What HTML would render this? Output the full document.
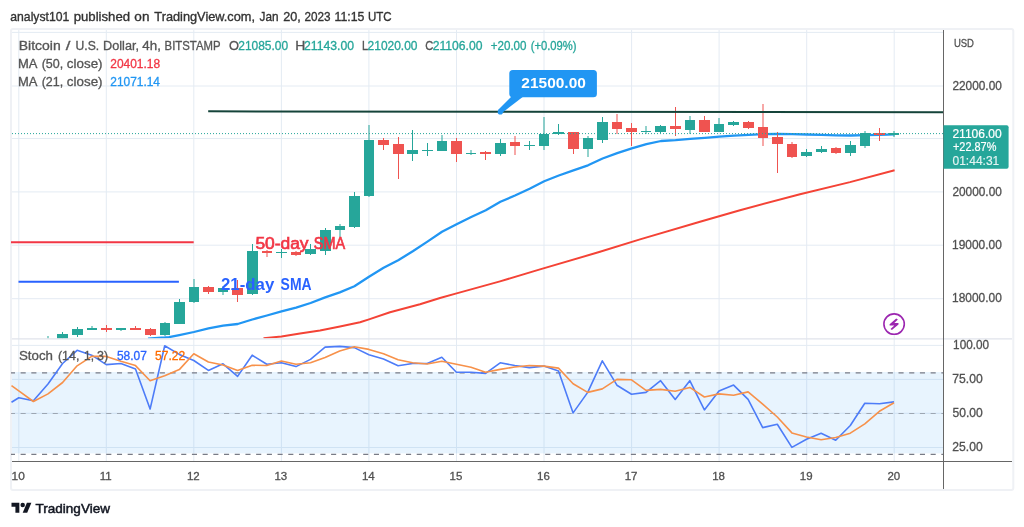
<!DOCTYPE html>
<html><head><meta charset="utf-8"><style>
html,body{margin:0;padding:0;background:#fff;width:1024px;height:527px;overflow:hidden}
svg{display:block;will-change:transform}
text{font-family:"Liberation Sans", sans-serif}
</style></head><body>
<svg width="1024" height="527" viewBox="0 0 1024 527">
<defs>
<clipPath id="cp"><rect x="11" y="30" width="932" height="308.5"/></clipPath>
<clipPath id="cs"><rect x="11" y="339.5" width="932" height="121.5"/></clipPath>
</defs>
<rect width="1024" height="527" fill="#fff"/>
<text x="10.31" y="20.50" font-size="13.00" fill="#333333" textLength="58.96" lengthAdjust="spacingAndGlyphs" stroke="#333333" stroke-width="0.35">analyst101</text>
<text x="73.74" y="20.50" font-size="13.00" fill="#333333" textLength="56.33" lengthAdjust="spacingAndGlyphs" stroke="#333333" stroke-width="0.35">published</text>
<text x="134.36" y="20.50" font-size="13.00" fill="#333333" textLength="15.05" lengthAdjust="spacingAndGlyphs" stroke="#333333" stroke-width="0.35">on</text>
<text x="154.34" y="20.50" font-size="13.00" fill="#333333" textLength="100.68" lengthAdjust="spacingAndGlyphs" stroke="#333333" stroke-width="0.35">TradingView.com,</text>
<text x="259.52" y="20.50" font-size="13.00" fill="#333333" textLength="18.97" lengthAdjust="spacingAndGlyphs" stroke="#333333" stroke-width="0.35">Jan</text>
<text x="283.17" y="20.50" font-size="13.00" fill="#333333" textLength="17.57" lengthAdjust="spacingAndGlyphs" stroke="#333333" stroke-width="0.35">20,</text>
<text x="304.41" y="20.50" font-size="13.00" fill="#333333" textLength="26.05" lengthAdjust="spacingAndGlyphs" stroke="#333333" stroke-width="0.35">2023</text>
<text x="334.58" y="20.50" font-size="13.00" fill="#333333" textLength="29.85" lengthAdjust="spacingAndGlyphs" stroke="#333333" stroke-width="0.35">11:15</text>
<text x="367.94" y="20.50" font-size="13.00" fill="#333333" textLength="23.67" lengthAdjust="spacingAndGlyphs" stroke="#333333" stroke-width="0.35">UTC</text>
<rect x="11" y="29" width="1002.3" height="461" rx="2" fill="none" stroke="#eff1f5" stroke-width="2"/>
<g stroke="#e4ebf3" stroke-width="1">
<line x1="18.8" y1="30" x2="18.8" y2="461" />
<line x1="106.3" y1="30" x2="106.3" y2="461" />
<line x1="193.8" y1="30" x2="193.8" y2="461" />
<line x1="281.4" y1="30" x2="281.4" y2="461" />
<line x1="368.9" y1="30" x2="368.9" y2="461" />
<line x1="456.5" y1="30" x2="456.5" y2="461" />
<line x1="544.0" y1="30" x2="544.0" y2="461" />
<line x1="631.6" y1="30" x2="631.6" y2="461" />
<line x1="719.1" y1="30" x2="719.1" y2="461" />
<line x1="806.7" y1="30" x2="806.7" y2="461" />
<line x1="894.2" y1="30" x2="894.2" y2="461" />
<line x1="12" y1="32.4" x2="943" y2="32.4" />
<line x1="12" y1="86.0" x2="943" y2="86.0" />
<line x1="12" y1="138.5" x2="943" y2="138.5" />
<line x1="12" y1="191.9" x2="943" y2="191.9" />
<line x1="12" y1="245.2" x2="943" y2="245.2" />
<line x1="12" y1="298.7" x2="943" y2="298.7" />
<line x1="12" y1="345.4" x2="943" y2="345.4" />
<line x1="12" y1="379.4" x2="943" y2="379.4" />
<line x1="12" y1="413.3" x2="943" y2="413.3" />
<line x1="12" y1="447.5" x2="943" y2="447.5" />
</g>
<!-- stoch band -->
<rect x="12" y="372" width="931" height="81.4" fill="#2196f3" fill-opacity="0.1"/>
<g clip-path="url(#cs)" stroke-width="1.1">
<line x1="9.9" y1="372.9" x2="943" y2="372.9" stroke="#787b86" stroke-dasharray="5.1 5.606"/>
<line x1="9.9" y1="413.5" x2="943" y2="413.5" stroke="#787b86" stroke-opacity="0.6" stroke-dasharray="5.1 5.606"/>
<line x1="9.9" y1="454.4" x2="943" y2="454.4" stroke="#787b86" stroke-dasharray="5.1 5.606"/>
</g>
<g clip-path="url(#cp)">
<text x="18.78" y="49.60" font-size="12.00" fill="#555555" textLength="41.95" lengthAdjust="spacingAndGlyphs" stroke="#555555" stroke-width="0.30">Bitcoin</text>
<text x="65.80" y="49.60" font-size="12.00" fill="#555555" textLength="4.66" lengthAdjust="spacingAndGlyphs" stroke="#555555" stroke-width="0.30">/</text>
<text x="75.59" y="49.60" font-size="12.00" fill="#555555" textLength="23.67" lengthAdjust="spacingAndGlyphs" stroke="#555555" stroke-width="0.30">U.S.</text>
<text x="103.09" y="49.60" font-size="12.00" fill="#555555" textLength="35.95" lengthAdjust="spacingAndGlyphs" stroke="#555555" stroke-width="0.30">Dollar,</text>
<text x="142.33" y="49.60" font-size="12.00" fill="#555555" textLength="18.57" lengthAdjust="spacingAndGlyphs" stroke="#555555" stroke-width="0.30">4h,</text>
<text x="164.59" y="49.60" font-size="12.00" fill="#555555" textLength="55.89" lengthAdjust="spacingAndGlyphs" stroke="#555555" stroke-width="0.30">BITSTAMP</text>
<text x="228.92" y="49.60" font-size="12.00" fill="#555555" textLength="9.99" lengthAdjust="spacingAndGlyphs" stroke="#555555" stroke-width="0.30">O</text>
<text x="238.30" y="49.60" font-size="12.00" fill="#26a69a" textLength="49.83" lengthAdjust="spacingAndGlyphs" stroke="#26a69a" stroke-width="0.30">21085.00</text>
<text x="295.39" y="49.60" font-size="12.00" fill="#555555" textLength="10.06" lengthAdjust="spacingAndGlyphs" stroke="#555555" stroke-width="0.30">H</text>
<text x="303.99" y="49.60" font-size="12.00" fill="#26a69a" textLength="50.06" lengthAdjust="spacingAndGlyphs" stroke="#26a69a" stroke-width="0.30">21143.00</text>
<text x="362.02" y="49.60" font-size="12.00" fill="#555555" textLength="6.12" lengthAdjust="spacingAndGlyphs" stroke="#555555" stroke-width="0.30">L</text>
<text x="367.60" y="49.60" font-size="12.00" fill="#26a69a" textLength="49.93" lengthAdjust="spacingAndGlyphs" stroke="#26a69a" stroke-width="0.30">21020.00</text>
<text x="425.34" y="49.60" font-size="12.00" fill="#555555" textLength="8.07" lengthAdjust="spacingAndGlyphs" stroke="#555555" stroke-width="0.30">C</text>
<text x="432.69" y="49.60" font-size="12.00" fill="#26a69a" textLength="49.75" lengthAdjust="spacingAndGlyphs" stroke="#26a69a" stroke-width="0.30">21106.00</text>
<text x="490.72" y="49.60" font-size="12.00" fill="#26a69a" textLength="35.80" lengthAdjust="spacingAndGlyphs" stroke="#26a69a" stroke-width="0.30">+20.00</text>
<text x="530.73" y="49.60" font-size="12.00" fill="#26a69a" textLength="45.85" lengthAdjust="spacingAndGlyphs" stroke="#26a69a" stroke-width="0.30">(+0.09%)</text>
<text x="18.06" y="67.70" font-size="12.00" fill="#555555" textLength="19.44" lengthAdjust="spacingAndGlyphs" stroke="#555555" stroke-width="0.30">MA</text>
<text x="41.65" y="67.70" font-size="12.00" fill="#555555" textLength="21.55" lengthAdjust="spacingAndGlyphs" stroke="#555555" stroke-width="0.30">(50,</text>
<text x="66.87" y="67.70" font-size="12.00" fill="#555555" textLength="35.67" lengthAdjust="spacingAndGlyphs" stroke="#555555" stroke-width="0.30">close)</text>
<text x="110.30" y="67.70" font-size="12.00" fill="#f23645" textLength="49.79" lengthAdjust="spacingAndGlyphs" stroke="#f23645" stroke-width="0.30">20401.18</text>
<text x="18.06" y="86.00" font-size="12.00" fill="#555555" textLength="19.44" lengthAdjust="spacingAndGlyphs" stroke="#555555" stroke-width="0.30">MA</text>
<text x="41.65" y="86.00" font-size="12.00" fill="#555555" textLength="21.55" lengthAdjust="spacingAndGlyphs" stroke="#555555" stroke-width="0.30">(21,</text>
<text x="66.87" y="86.00" font-size="12.00" fill="#555555" textLength="35.67" lengthAdjust="spacingAndGlyphs" stroke="#555555" stroke-width="0.30">close)</text>
<text x="110.30" y="86.00" font-size="12.00" fill="#2196f3" textLength="49.66" lengthAdjust="spacingAndGlyphs" stroke="#2196f3" stroke-width="0.30">21071.14</text>
<line x1="18.5" y1="281.7" x2="178.9" y2="281.7" stroke="#2962ff" stroke-width="2"/>
<line x1="11" y1="242.2" x2="193.7" y2="242.2" stroke="#f23645" stroke-width="2"/>
<polyline points="148.0,338.6 164.7,337.5 169.0,337.1 179.3,335.1 193.9,332.0 208.5,328.4 223.1,325.7 237.7,324.0 252.3,319.5 266.9,315.5 281.5,311.4 296.1,307.6 310.6,303.0 325.2,297.4 339.8,292.4 354.4,286.3 369.0,276.8 383.6,267.8 398.2,260.2 412.8,251.3 427.4,241.6 442.0,231.8 456.6,224.2 471.2,217.0 485.8,210.2 500.4,201.8 515.0,195.5 529.6,188.7 544.2,181.3 558.8,175.5 573.4,170.4 588.0,165.3 602.6,158.5 617.2,153.1 631.8,148.4 646.4,144.1 661.0,141.0 675.6,140.2 690.2,138.8 704.8,137.8 719.4,136.6 734.0,135.6 748.6,134.8 763.2,134.1 777.8,133.8 792.4,134.1 807.0,134.5 821.6,134.8 836.2,135.3 850.8,135.5 865.4,135.2 880.0,134.8 894.6,134.3" fill="none" stroke="#2196f3" stroke-width="2.3" stroke-linejoin="round"/>
<polyline points="263.5,338.2 281.5,336.4 300.0,333.4 320.0,330.5 340.0,326.5 360.0,322.3 369.0,319.4 390.0,312.3 420.0,304.2 440.0,298.0 456.6,293.4 500.0,281.4 540.0,269.4 600.0,251.8 640.0,239.4 700.0,221.8 740.0,210.2 800.0,194.2 850.0,182.1 894.6,170.2" fill="none" stroke="#f44336" stroke-width="2" stroke-linejoin="round"/>
<rect x="47.50" y="336" width="1" height="4" fill="#26a69a"/>
<rect x="43" y="340" width="10" height="1" fill="#26a69a"/>
<rect x="62.00" y="332" width="1" height="8" fill="#26a69a"/>
<rect x="57" y="334" width="11" height="6" fill="#26a69a"/>
<rect x="77.00" y="327" width="1" height="10" fill="#26a69a"/>
<rect x="72" y="329" width="11" height="6" fill="#26a69a"/>
<rect x="91.50" y="326" width="1" height="4" fill="#26a69a"/>
<rect x="87" y="328" width="10" height="2" fill="#26a69a"/>
<rect x="106.00" y="325" width="1" height="7" fill="#ef5350"/>
<rect x="101" y="328" width="11" height="2" fill="#ef5350"/>
<rect x="120.50" y="328" width="1" height="3" fill="#26a69a"/>
<rect x="116" y="328" width="10" height="2" fill="#26a69a"/>
<rect x="135.00" y="326" width="1" height="4" fill="#ef5350"/>
<rect x="130" y="328" width="11" height="2" fill="#ef5350"/>
<rect x="150.00" y="328" width="1" height="8" fill="#ef5350"/>
<rect x="145" y="329" width="11" height="6" fill="#ef5350"/>
<rect x="164.50" y="322" width="1" height="14" fill="#26a69a"/>
<rect x="160" y="323" width="10" height="12" fill="#26a69a"/>
<rect x="179.00" y="299" width="1" height="25" fill="#26a69a"/>
<rect x="174" y="302" width="11" height="22" fill="#26a69a"/>
<rect x="193.50" y="279" width="1" height="24" fill="#26a69a"/>
<rect x="189" y="287" width="10" height="15" fill="#26a69a"/>
<rect x="208.00" y="286" width="1" height="8" fill="#ef5350"/>
<rect x="203" y="287" width="11" height="5" fill="#ef5350"/>
<rect x="222.50" y="286" width="1" height="9" fill="#26a69a"/>
<rect x="218" y="288" width="10" height="4" fill="#26a69a"/>
<rect x="237.00" y="280" width="1" height="22" fill="#ef5350"/>
<rect x="232" y="288" width="11" height="7" fill="#ef5350"/>
<rect x="252.00" y="244" width="1" height="51" fill="#26a69a"/>
<rect x="247" y="251" width="11" height="43" fill="#26a69a"/>
<rect x="266.50" y="250" width="1" height="7" fill="#ef5350"/>
<rect x="262" y="251" width="10" height="2" fill="#ef5350"/>
<rect x="281.00" y="249" width="1" height="9" fill="#26a69a"/>
<rect x="276" y="252" width="11" height="1" fill="#26a69a"/>
<rect x="295.50" y="251" width="1" height="5" fill="#ef5350"/>
<rect x="291" y="252" width="10" height="3" fill="#ef5350"/>
<rect x="310.00" y="244" width="1" height="11" fill="#26a69a"/>
<rect x="305" y="249" width="11" height="5" fill="#26a69a"/>
<rect x="325.00" y="228" width="1" height="27" fill="#26a69a"/>
<rect x="320" y="230" width="11" height="21" fill="#26a69a"/>
<rect x="339.50" y="224" width="1" height="13" fill="#26a69a"/>
<rect x="335" y="226" width="10" height="4" fill="#26a69a"/>
<rect x="354.00" y="192" width="1" height="36" fill="#26a69a"/>
<rect x="349" y="196" width="11" height="31" fill="#26a69a"/>
<rect x="368.50" y="125" width="1" height="72" fill="#26a69a"/>
<rect x="364" y="140" width="10" height="56" fill="#26a69a"/>
<rect x="383.00" y="138" width="1" height="12" fill="#ef5350"/>
<rect x="378" y="140" width="11" height="5" fill="#ef5350"/>
<rect x="398.00" y="137" width="1" height="42" fill="#ef5350"/>
<rect x="393" y="144" width="11" height="10" fill="#ef5350"/>
<rect x="412.00" y="130" width="1" height="31" fill="#26a69a"/>
<rect x="407" y="150" width="11" height="4" fill="#26a69a"/>
<rect x="427.00" y="143" width="1" height="13" fill="#26a69a"/>
<rect x="422" y="150" width="11" height="1" fill="#26a69a"/>
<rect x="441.50" y="135" width="1" height="16" fill="#26a69a"/>
<rect x="437" y="141" width="10" height="10" fill="#26a69a"/>
<rect x="456.00" y="138" width="1" height="24" fill="#ef5350"/>
<rect x="451" y="141" width="11" height="13" fill="#ef5350"/>
<rect x="470.50" y="150" width="1" height="5" fill="#26a69a"/>
<rect x="466" y="153" width="10" height="1" fill="#26a69a"/>
<rect x="485.00" y="151" width="1" height="9" fill="#ef5350"/>
<rect x="480" y="152" width="11" height="2" fill="#ef5350"/>
<rect x="500.00" y="139" width="1" height="17" fill="#26a69a"/>
<rect x="495" y="143" width="11" height="11" fill="#26a69a"/>
<rect x="514.50" y="136" width="1" height="19" fill="#ef5350"/>
<rect x="510" y="142" width="10" height="4" fill="#ef5350"/>
<rect x="529.00" y="141" width="1" height="9" fill="#26a69a"/>
<rect x="524" y="145" width="11" height="1" fill="#26a69a"/>
<rect x="543.50" y="117" width="1" height="33" fill="#26a69a"/>
<rect x="539" y="134" width="10" height="12" fill="#26a69a"/>
<rect x="558.00" y="124" width="1" height="11" fill="#26a69a"/>
<rect x="553" y="132" width="11" height="2" fill="#26a69a"/>
<rect x="573.00" y="132" width="1" height="22" fill="#ef5350"/>
<rect x="568" y="132" width="11" height="17" fill="#ef5350"/>
<rect x="587.50" y="136" width="1" height="21" fill="#26a69a"/>
<rect x="583" y="138" width="10" height="11" fill="#26a69a"/>
<rect x="602.00" y="117" width="1" height="26" fill="#26a69a"/>
<rect x="597" y="122" width="11" height="18" fill="#26a69a"/>
<rect x="616.50" y="114" width="1" height="20" fill="#ef5350"/>
<rect x="612" y="122" width="10" height="7" fill="#ef5350"/>
<rect x="631.00" y="123" width="1" height="23" fill="#ef5350"/>
<rect x="626" y="128" width="11" height="4" fill="#ef5350"/>
<rect x="645.50" y="126" width="1" height="8" fill="#26a69a"/>
<rect x="641" y="131" width="10" height="1" fill="#26a69a"/>
<rect x="660.00" y="125" width="1" height="8" fill="#26a69a"/>
<rect x="655" y="126" width="11" height="6" fill="#26a69a"/>
<rect x="675.00" y="107" width="1" height="29" fill="#ef5350"/>
<rect x="670" y="126" width="11" height="3" fill="#ef5350"/>
<rect x="689.50" y="116" width="1" height="18" fill="#26a69a"/>
<rect x="685" y="120" width="10" height="10" fill="#26a69a"/>
<rect x="704.00" y="116" width="1" height="16" fill="#ef5350"/>
<rect x="699" y="120" width="11" height="12" fill="#ef5350"/>
<rect x="718.50" y="118" width="1" height="14" fill="#26a69a"/>
<rect x="714" y="124" width="10" height="8" fill="#26a69a"/>
<rect x="733.00" y="121" width="1" height="5" fill="#26a69a"/>
<rect x="728" y="122" width="11" height="3" fill="#26a69a"/>
<rect x="748.00" y="121" width="1" height="8" fill="#ef5350"/>
<rect x="743" y="122" width="11" height="6" fill="#ef5350"/>
<rect x="762.50" y="104" width="1" height="42" fill="#ef5350"/>
<rect x="758" y="127" width="10" height="11" fill="#ef5350"/>
<rect x="777.00" y="132" width="1" height="41" fill="#ef5350"/>
<rect x="772" y="137" width="11" height="7" fill="#ef5350"/>
<rect x="791.50" y="142" width="1" height="16" fill="#ef5350"/>
<rect x="787" y="144" width="10" height="13" fill="#ef5350"/>
<rect x="806.00" y="149" width="1" height="8" fill="#26a69a"/>
<rect x="801" y="152" width="11" height="4" fill="#26a69a"/>
<rect x="821.00" y="146" width="1" height="7" fill="#26a69a"/>
<rect x="816" y="149" width="11" height="3" fill="#26a69a"/>
<rect x="835.50" y="147" width="1" height="7" fill="#ef5350"/>
<rect x="831" y="148" width="10" height="5" fill="#ef5350"/>
<rect x="850.00" y="141" width="1" height="15" fill="#26a69a"/>
<rect x="845" y="145" width="11" height="8" fill="#26a69a"/>
<rect x="864.50" y="131" width="1" height="17" fill="#26a69a"/>
<rect x="860" y="133" width="10" height="13" fill="#26a69a"/>
<rect x="879.00" y="128" width="1" height="13" fill="#ef5350"/>
<rect x="874" y="133" width="11" height="2" fill="#ef5350"/>
<rect x="893.50" y="131" width="1" height="6" fill="#26a69a"/>
<rect x="889" y="133" width="10" height="2" fill="#26a69a"/>
<text x="221.01" y="290.00" font-size="15.80" fill="#2962ff" font-weight="bold" textLength="53.23" lengthAdjust="spacingAndGlyphs">21-day</text><text x="280.58" y="290.00" font-size="15.80" fill="#2962ff" font-weight="bold" textLength="31.00" lengthAdjust="spacingAndGlyphs">SMA</text>
<line x1="12" y1="133.6" x2="943" y2="133.6" stroke="#26a69a" stroke-width="1" stroke-dasharray="1 2"/>
<line x1="208.2" y1="111.35" x2="943" y2="112.35" stroke="#15443a" stroke-width="2"/>
<text x="255.40" y="248.70" font-size="16.00" fill="#f23645" textLength="53.16" lengthAdjust="spacingAndGlyphs" stroke="#f23645" stroke-width="0.65">50-day</text><text x="313.85" y="248.70" font-size="16.00" fill="#f23645" textLength="31.38" lengthAdjust="spacingAndGlyphs" stroke="#f23645" stroke-width="0.65">SMA</text>
<!-- callout -->
<path d="M512,96 L524,96 L502,113 L498,110 Z" fill="#2196f3"/>
<rect x="509.3" y="70" width="87.6" height="27.3" rx="3.5" fill="#2196f3"/>
<circle cx="500.3" cy="111.9" r="2.6" fill="#2196f3"/>
<text x="521.36" y="87.50" font-size="14.50" fill="#ffffff" font-weight="bold" textLength="64.48" lengthAdjust="spacingAndGlyphs">21500.00</text>
<!-- lightning -->
<circle cx="894.1" cy="324.1" r="10.2" fill="#fff" stroke="#9c27b0" stroke-width="1.6"/>
<path d="M896.2,318.5 L897.9,319.6 L894.3,323.1 L898.5,323.1 L898.5,324.5 L891.9,329.9 L890.5,329.0 L894.3,325.5 L889.6,325.5 L889.6,324.2 Z" fill="#9c27b0"/>
</g>
<g clip-path="url(#cs)">
<polyline points="11.5,402.3 18.8,397.7 33.4,400.7 48.0,384.0 62.6,363.5 77.1,350.3 91.7,355.2 106.3,364.6 120.9,363.5 135.5,368.9 150.1,409.1 164.7,345.8 179.3,354.4 193.8,360.5 208.4,370.4 223.0,363.8 237.6,376.4 252.2,355.2 266.8,364.3 281.4,362.8 296.0,366.6 310.5,359.4 325.1,347.1 339.7,346.4 354.3,347.6 368.9,354.7 383.5,359.0 398.1,365.8 412.6,363.5 427.2,363.5 441.8,357.2 456.4,372.3 471.0,372.2 485.6,373.4 500.2,362.8 514.8,365.5 529.3,367.6 543.9,366.1 558.5,371.1 573.1,412.9 587.7,392.4 602.3,360.8 616.9,385.2 631.5,394.2 646.0,392.4 660.6,380.7 675.2,399.5 689.8,380.7 704.4,409.9 719.0,390.9 733.6,385.1 748.1,399.4 762.7,427.6 777.3,424.3 791.9,447.4 806.5,439.2 821.1,433.2 835.7,440.2 850.3,425.5 864.8,403.3 879.4,403.8 894.0,401.9" fill="none" stroke="#4d7cf8" stroke-width="1.6" stroke-linejoin="round"/>
<polyline points="11.5,385.6 18.8,390.9 33.4,401.5 48.0,393.9 62.6,382.5 77.1,365.8 91.7,356.4 106.3,356.4 120.9,361.3 135.5,365.6 150.1,380.7 164.7,375.7 179.3,369.6 193.8,353.7 208.4,362.0 223.0,365.0 237.6,370.4 252.2,365.3 266.8,365.5 281.4,361.0 296.0,364.3 310.5,362.8 325.1,357.5 339.7,350.9 354.3,346.8 368.9,349.4 383.5,353.7 398.1,359.7 412.6,362.8 427.2,364.0 441.8,361.3 456.4,364.3 471.0,367.3 485.6,372.3 500.2,369.4 514.8,367.0 529.3,365.5 543.9,366.1 558.5,368.1 573.1,383.7 587.7,392.4 602.3,388.9 616.9,379.4 631.5,379.8 646.0,390.4 660.6,389.4 675.2,391.2 689.8,387.4 704.4,397.0 719.0,393.9 733.6,395.3 748.1,391.9 762.7,404.2 777.3,417.0 791.9,432.9 806.5,437.0 821.1,439.7 835.7,437.5 850.3,433.2 864.8,423.8 879.4,411.3 894.0,402.8" fill="none" stroke="#f7914a" stroke-width="1.6" stroke-linejoin="round"/>
<text x="19.00" y="359.60" font-size="12.00" fill="#555555" textLength="33.99" lengthAdjust="spacingAndGlyphs" stroke="#555555" stroke-width="0.30">Stoch</text>
<text x="57.95" y="359.60" font-size="12.00" fill="#555555" textLength="21.44" lengthAdjust="spacingAndGlyphs" stroke="#555555" stroke-width="0.30">(14,</text>
<text x="84.00" y="359.60" font-size="12.00" fill="#555555" textLength="9.96" lengthAdjust="spacingAndGlyphs" stroke="#555555" stroke-width="0.30">1,</text>
<text x="97.10" y="359.60" font-size="12.00" fill="#555555" textLength="11.10" lengthAdjust="spacingAndGlyphs" stroke="#555555" stroke-width="0.30">3)</text>
<text x="116.92" y="359.60" font-size="12.00" fill="#2962ff" textLength="29.91" lengthAdjust="spacingAndGlyphs" stroke="#2962ff" stroke-width="0.30">58.07</text>
<text x="155.02" y="359.60" font-size="12.00" fill="#ff6d00" textLength="30.11" lengthAdjust="spacingAndGlyphs" stroke="#ff6d00" stroke-width="0.30">57.22</text>
</g>
<!-- separator & axes -->
<line x1="12" y1="338.9" x2="1012" y2="338.9" stroke="#e0e3eb" stroke-width="1.2"/>
<line x1="943.5" y1="30" x2="943.5" y2="489" stroke="#666666" stroke-width="1"/>
<line x1="12" y1="461.5" x2="1012" y2="461.5" stroke="#666666" stroke-width="1"/>
<!-- price label -->
<path d="M943.5,125.2 H1006.6 a2,2 0 0 1 2,2 V166.8 a2,2 0 0 1 -2,2 H943.5 Z" fill="#26a69a"/>
<text x="952.40" y="138.00" font-size="12.00" fill="#ffffff" textLength="49.35" lengthAdjust="spacingAndGlyphs" stroke="#ffffff" stroke-width="0.20">21106.00</text><text x="952.95" y="151.10" font-size="12.00" fill="#ffffff" textLength="43.44" lengthAdjust="spacingAndGlyphs" stroke="#ffffff" stroke-width="0.20">+22.87%</text><text x="952.52" y="164.70" font-size="12.00" fill="#ffffff" textLength="46.75" lengthAdjust="spacingAndGlyphs" stroke="#ffffff" stroke-width="0.15" opacity="0.88">01:44:31</text>
<text x="953.89" y="46.60" font-size="11.60" fill="#505050" textLength="20.05" lengthAdjust="spacingAndGlyphs" stroke="#505050" stroke-width="0.30">USD</text>
<text x="952.41" y="89.70" font-size="12.00" fill="#505050" textLength="49.42" lengthAdjust="spacingAndGlyphs" stroke="#505050" stroke-width="0.30">22000.00</text>
<text x="952.41" y="195.60" font-size="12.00" fill="#505050" textLength="49.42" lengthAdjust="spacingAndGlyphs" stroke="#505050" stroke-width="0.30">20000.00</text>
<text x="952.11" y="248.90" font-size="12.00" fill="#505050" textLength="49.72" lengthAdjust="spacingAndGlyphs" stroke="#505050" stroke-width="0.30">19000.00</text>
<text x="952.11" y="302.40" font-size="12.00" fill="#505050" textLength="49.72" lengthAdjust="spacingAndGlyphs" stroke="#505050" stroke-width="0.30">18000.00</text>
<text x="953.12" y="349.20" font-size="12.00" fill="#505050" textLength="35.87" lengthAdjust="spacingAndGlyphs" stroke="#505050" stroke-width="0.30">100.00</text>
<text x="952.39" y="383.30" font-size="12.00" fill="#505050" textLength="30.36" lengthAdjust="spacingAndGlyphs" stroke="#505050" stroke-width="0.30">75.00</text>
<text x="952.52" y="417.20" font-size="12.00" fill="#505050" textLength="30.24" lengthAdjust="spacingAndGlyphs" stroke="#505050" stroke-width="0.30">50.00</text>
<text x="952.39" y="451.40" font-size="12.00" fill="#505050" textLength="30.36" lengthAdjust="spacingAndGlyphs" stroke="#505050" stroke-width="0.30">25.00</text>
<text x="11.61" y="480.30" font-size="11.50" fill="#505050" textLength="13.24" lengthAdjust="spacingAndGlyphs" stroke="#505050" stroke-width="0.30">10</text>
<text x="99.78" y="480.30" font-size="11.50" fill="#505050" textLength="11.94" lengthAdjust="spacingAndGlyphs" stroke="#505050" stroke-width="0.30">11</text>
<text x="186.92" y="480.30" font-size="11.50" fill="#505050" textLength="12.79" lengthAdjust="spacingAndGlyphs" stroke="#505050" stroke-width="0.30">12</text>
<text x="274.42" y="480.30" font-size="11.50" fill="#505050" textLength="12.79" lengthAdjust="spacingAndGlyphs" stroke="#505050" stroke-width="0.30">13</text>
<text x="361.91" y="480.30" font-size="11.50" fill="#505050" textLength="12.79" lengthAdjust="spacingAndGlyphs" stroke="#505050" stroke-width="0.30">14</text>
<text x="449.52" y="480.30" font-size="11.50" fill="#505050" textLength="12.79" lengthAdjust="spacingAndGlyphs" stroke="#505050" stroke-width="0.30">15</text>
<text x="537.07" y="480.30" font-size="11.50" fill="#505050" textLength="12.79" lengthAdjust="spacingAndGlyphs" stroke="#505050" stroke-width="0.30">16</text>
<text x="624.67" y="480.30" font-size="11.50" fill="#505050" textLength="12.79" lengthAdjust="spacingAndGlyphs" stroke="#505050" stroke-width="0.30">17</text>
<text x="712.17" y="480.30" font-size="11.50" fill="#505050" textLength="12.79" lengthAdjust="spacingAndGlyphs" stroke="#505050" stroke-width="0.30">18</text>
<text x="799.75" y="480.30" font-size="11.50" fill="#505050" textLength="12.79" lengthAdjust="spacingAndGlyphs" stroke="#505050" stroke-width="0.30">19</text>
<text x="887.38" y="480.30" font-size="11.50" fill="#505050" textLength="12.79" lengthAdjust="spacingAndGlyphs" stroke="#505050" stroke-width="0.30">20</text>
<!-- footer logo -->
<g transform="translate(11.5,500.5) scale(0.56)" fill="#131722">
<path d="M14 22H7V11H0V4h14v18z"/><circle cx="20" cy="8" r="4"/><path d="M28 22h-8l7.5-18h8L28 22z"/>
</g>
<text x="35.53" y="513.20" font-size="13.50" fill="#131722" textLength="74.45" lengthAdjust="spacingAndGlyphs" stroke="#131722" stroke-width="0.50">TradingView</text>
</svg>
</body></html>
